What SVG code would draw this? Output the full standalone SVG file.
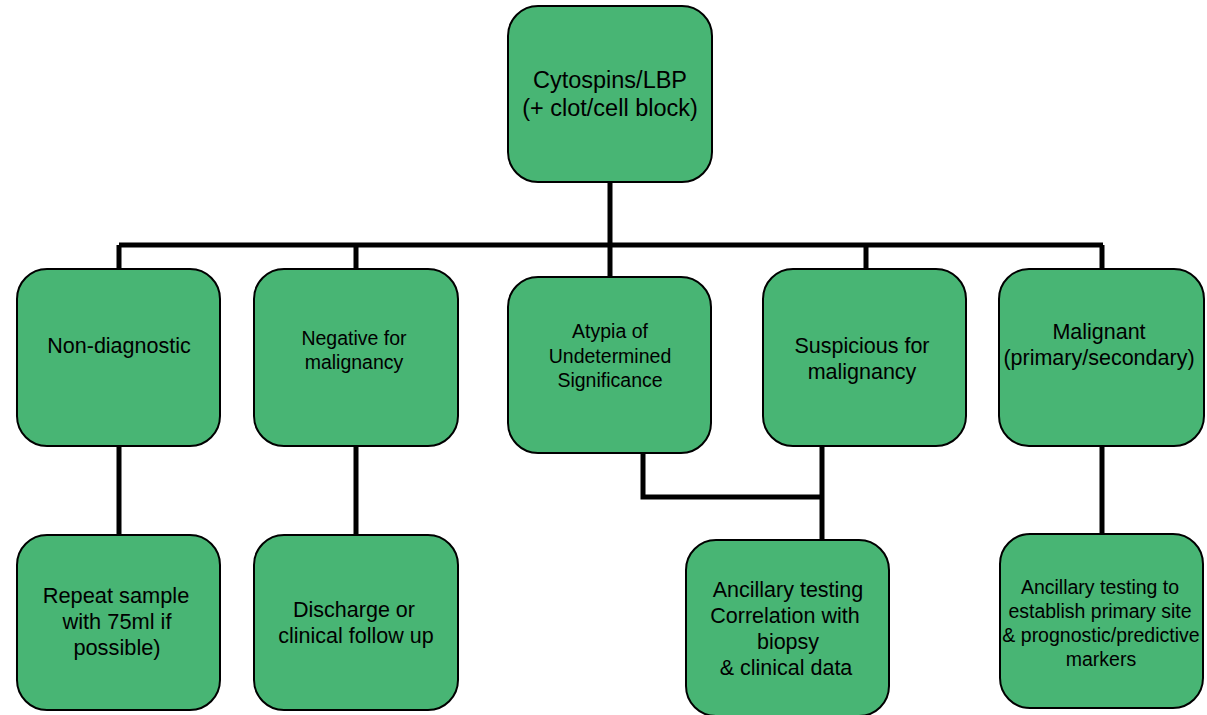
<svg xmlns="http://www.w3.org/2000/svg" width="1207" height="715" viewBox="0 0 1207 715">
<style>
.box{fill:#48B574;stroke:#000;stroke-width:2}
.t{font-family:"Liberation Sans",Arial,sans-serif;fill:#000;text-anchor:middle}
.c{fill:none;stroke:#000;stroke-width:5}
</style>
<rect width="1207" height="715" fill="#fff"/>
<g id="connectors">
<path class="c" d="M610 182V245M119 245H1103M119 245V269M356 245V269M610 245V277M866 245V269M1102 245V269"/>
<path class="c" d="M119 446V535M356 446V535M1102 446V534"/>
<path class="c" d="M643 453V497H822M822 446V540"/>
</g>
<g id="n-top"><rect class="box" x="508" y="6" width="204" height="176" rx="30"/>
<text class="t" font-size="23.5"><tspan x="610" y="88">Cytospins/LBP</tspan><tspan x="610" y="116">(+ clot/cell block)</tspan></text></g>
<g id="n-nondiag"><rect class="box" x="17" y="269" width="203" height="177" rx="30"/>
<text class="t" font-size="21.5"><tspan x="119" y="353">Non-diagnostic</tspan></text></g>
<g id="n-neg"><rect class="box" x="254" y="269" width="204" height="177" rx="30"/>
<text class="t" font-size="19.5"><tspan x="354" y="345">Negative for</tspan><tspan x="354" y="369">malignancy</tspan></text></g>
<g id="n-aus"><rect class="box" x="508" y="277" width="203" height="176" rx="30"/>
<text class="t" font-size="19.5"><tspan x="610" y="338">Atypia of</tspan><tspan x="610" y="363">Undetermined</tspan><tspan x="610" y="387">Significance</tspan></text></g>
<g id="n-susp"><rect class="box" x="763" y="269" width="203" height="177" rx="30"/>
<text class="t" font-size="21.5"><tspan x="862" y="353">Suspicious for</tspan><tspan x="862" y="379">malignancy</tspan></text></g>
<g id="n-mal"><rect class="box" x="999" y="269" width="205" height="177" rx="30"/>
<text class="t" font-size="21.5"><tspan x="1099" y="339">Malignant</tspan><tspan x="1099" y="365">(primary/secondary)</tspan></text></g>
<g id="n-repeat"><rect class="box" x="17" y="535" width="203" height="175" rx="30"/>
<text class="t" font-size="21.8"><tspan x="116" y="603">Repeat sample</tspan><tspan x="117" y="629">with 75ml if</tspan><tspan x="117" y="655">possible)</tspan></text></g>
<g id="n-discharge"><rect class="box" x="254" y="535" width="204" height="175" rx="30"/>
<text class="t" font-size="21.5"><tspan x="354" y="617">Discharge or</tspan><tspan x="356" y="643">clinical follow up</tspan></text></g>
<g id="n-anc1"><rect class="box" x="686" y="540" width="203" height="176" rx="30"/>
<text class="t" font-size="21.5"><tspan x="788" y="597">Ancillary testing</tspan><tspan x="785" y="623">Correlation with</tspan><tspan x="788" y="649">biopsy</tspan><tspan x="786" y="675">&amp; clinical data</tspan></text></g>
<g id="n-anc2"><rect class="box" x="1000" y="534" width="203" height="174" rx="30"/>
<text class="t" font-size="19.5"><tspan x="1100" y="594">Ancillary testing to</tspan><tspan x="1100" y="618">establish primary site</tspan><tspan x="1101" y="642">&amp; prognostic/predictive</tspan><tspan x="1101" y="666">markers</tspan></text></g>
</svg>
